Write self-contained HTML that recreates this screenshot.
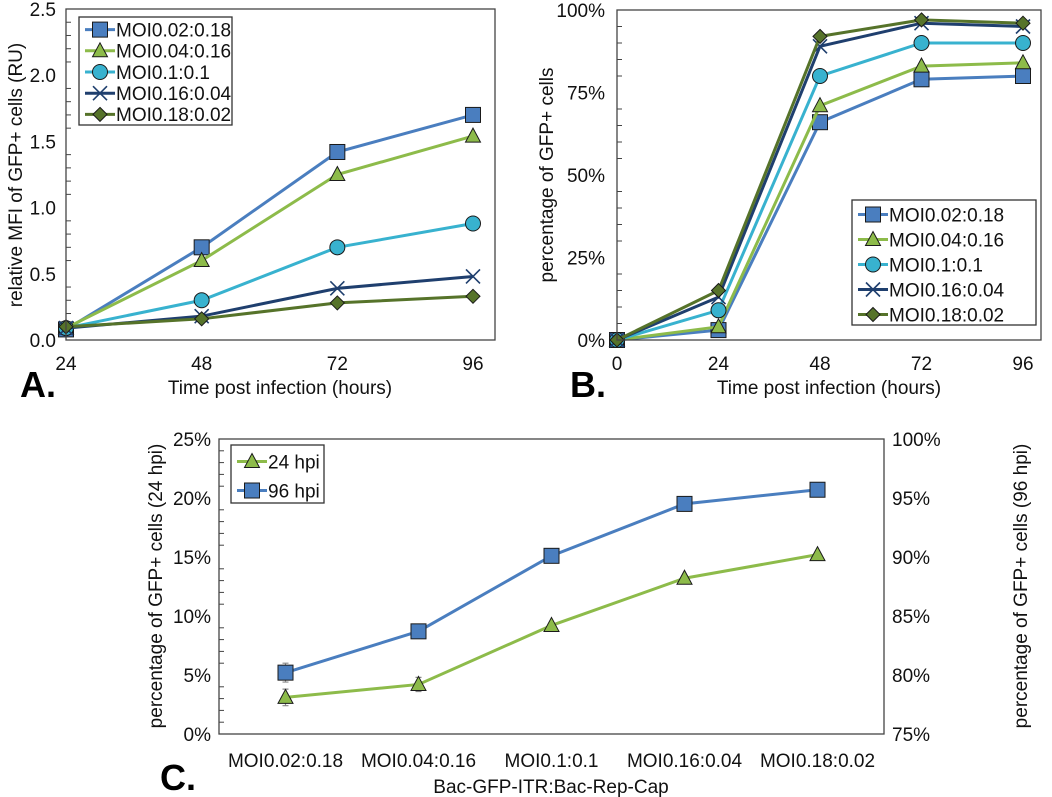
<!DOCTYPE html>
<html><head><meta charset="utf-8"><style>
html,body{margin:0;padding:0;background:#fff}
svg{display:block;font-family:"Liberation Sans",Arial,sans-serif}
</style></head><body>
<svg id="fig" width="1052" height="797" viewBox="0 0 1052 797"></svg>
<script>
const NS="http://www.w3.org/2000/svg";
const svg=document.getElementById('fig');
// ---- data ----
const seriesNames=["MOI0.02:0.18","MOI0.04:0.16","MOI0.1:0.1","MOI0.16:0.04","MOI0.18:0.02"];
const seriesColors=["#4a7ebf","#8dbb4a","#38b2cf","#1f3f6e","#56732a"];
const seriesMarkers=["square","triangle","circle","x","diamond"];
const aHours=[24,48,72,96];
const aMFI0=[0.08,0.70,1.42,1.70];
const aMFI1=[0.09,0.60,1.25,1.54];
const aMFI2=[0.09,0.30,0.70,0.88];
const aMFI3=[0.09,0.18,0.39,0.48];
const aMFI4=[0.10,0.16,0.28,0.33];
const aTicks=["0.0","0.5","1.0","1.5","2.0","2.5"];
const bHours=[0,24,48,72,96];
const bPct0=[0,3,66,79,80];
const bPct1=[0,4,71,83,84];
const bPct2=[0,9,80,90,90];
const bPct3=[0,13,89,96,95];
const bPct4=[0,15,92,97,96];
const bTicks=["0%","25%","50%","75%","100%"];
const cCats=["MOI0.02:0.18","MOI0.04:0.16","MOI0.1:0.1","MOI0.16:0.04","MOI0.18:0.02"];
const c24=[3.1,4.2,9.2,13.2,15.2];
const c24err=[0.7,0.6,0.2,0.2,0.2];
const c96=[80.2,83.7,90.1,94.5,95.7];
const c96err=[0.8,0.5,0.3,0.2,0.2];
const cLeftTicks=["0%","5%","10%","15%","20%","25%"];
const cRightTicks=["75%","80%","85%","90%","95%","100%"];

const FS=19;
function el(tag,attrs,parent,text){const e=document.createElementNS(NS,tag);for(const k in attrs)e.setAttribute(k,attrs[k]);if(text!==undefined)e.textContent=text;(parent||svg).appendChild(e);return e;}
function marker(g,type,x,y,color){
  const st='#1a1a1a';
  if(type==='square')return el('rect',{x:x-7.5,y:y-7.5,width:15,height:15,fill:color,stroke:st,'stroke-width':1},g);
  if(type==='triangle')return el('polygon',{points:`${x},${y-8} ${x+7.5},${y+6} ${x-7.5},${y+6}`,fill:color,stroke:st,'stroke-width':1},g);
  if(type==='circle')return el('circle',{cx:x,cy:y,r:7.5,fill:color,stroke:st,'stroke-width':1},g);
  if(type==='diamond')return el('polygon',{points:`${x},${y-7} ${x+7},${y} ${x},${y+7} ${x-7},${y}`,fill:color,stroke:st,'stroke-width':1},g);
  if(type==='x')return el('path',{d:`M${x-7},${y-7}L${x+7},${y+7}M${x-7},${y+7}L${x+7},${y-7}`,stroke:color,'stroke-width':1.6},g);
}
function frame(g,l,t,r,b){el('rect',{x:l,y:t,width:r-l,height:b-t,fill:'none',stroke:'#444','stroke-width':1.3},g);}
function lineSeries(g,xs,ys,xf,yf,color,mk,name){
  const sg=el('g',{},g);
  
  
  el('polyline',{points:xs.map((v,i)=>xf(v)+','+yf(ys[i])).join(' '),fill:'none',stroke:color,'stroke-width':3},sg);
  xs.forEach((v,i)=>{const m=marker(sg,mk,xf(v),yf(ys[i]),color);
    
    });
}
function legend(g,x,y,w,h,rowH,names,colors,markers,fs){
  const lg=el('g',{},g);
  
  
  el('rect',{x:x,y:y,width:w,height:h,fill:'#fff',stroke:'#333','stroke-width':1.3},lg);
  names.forEach((n,i)=>{const cy=y+rowH*(i+0.5)+2;
    const e=el('g',{},lg);
    
    
    el('line',{x1:x+6,y1:cy,x2:x+36,y2:cy,stroke:colors[i],'stroke-width':3},e);
    marker(e,markers[i],x+21,cy,colors[i]);
    el('text',{x:x+37,y:cy+fs*0.36,'font-size':fs,fill:'#111'},e,n);});
}
// ---- Chart A ----
(function(){
  const g=el('g',{});
  const L=66,R=495,T=9,B=340;
  const xf=h=>66+(h-24)*(473-66)/72, yf=v=>B-(v/2.5)*(B-T);
  for(let v=0;v<=2.5001;v+=0.1){el('line',{x1:L,x2:L+(Math.round(v*10)%5===0?0:5),y1:yf(v),y2:yf(v),stroke:'#444'},g);}
  aTicks.forEach(t=>{const tx=el('text',{x:L-10,y:yf(+t)+7,'text-anchor':'end','font-size':FS,fill:'#111'},g,t);});
  aHours.forEach(h=>{const tx=el('text',{x:xf(h),y:370,'text-anchor':'middle','font-size':FS,fill:'#111'},g,h);});
  const yt=el('text',{transform:`translate(22,175) rotate(-90)`,'text-anchor':'middle','font-size':FS,fill:'#111'},g,'relative MFI of GFP+ cells (RU)');
  const xt=el('text',{x:280,y:394,'text-anchor':'middle','font-size':FS,fill:'#111'},g,'Time post infection (hours)');
  const pl=el('text',{x:20,y:397,'font-size':36,'font-weight':'bold',fill:'#000'},g,'A.');
  const data=[aMFI0,aMFI1,aMFI2,aMFI3,aMFI4];
  data.forEach((d,i)=>lineSeries(g,aHours,d,xf,yf,seriesColors[i],seriesMarkers[i],'series-'+i));
  frame(g,L,T,R,B);
  legend(g,79,17,153,108,21.2,seriesNames,seriesColors,seriesMarkers,FS);
})();
// ---- Chart B ----
(function(){
  const g=el('g',{});
  const L=617,R=1041,T=10,B=340;
  const xf=h=>617+h*(1023-617)/96, yf=v=>B-(v/100)*(B-T);
  for(let v=0;v<=100;v+=5){el('line',{x1:L,x2:L+(v%25===0?0:5),y1:yf(v),y2:yf(v),stroke:'#444'},g);}
  bTicks.forEach(t=>{const tx=el('text',{x:L-12,y:yf(parseFloat(t))+7,'text-anchor':'end','font-size':FS,fill:'#111'},g,t);});
  bHours.forEach(h=>{const tx=el('text',{x:xf(h),y:370,'text-anchor':'middle','font-size':FS,fill:'#111'},g,h);});
  const yt=el('text',{transform:`translate(553,175) rotate(-90)`,'text-anchor':'middle','font-size':FS,fill:'#111'},g,'percentage of GFP+ cells');
  const xt=el('text',{x:829,y:394,'text-anchor':'middle','font-size':FS,fill:'#111'},g,'Time post infection (hours)');
  const pl=el('text',{x:570,y:397,'font-size':36,'font-weight':'bold',fill:'#000'},g,'B.');
  const data=[bPct0,bPct1,bPct2,bPct3,bPct4];
  data.forEach((d,i)=>lineSeries(g,bHours,d,xf,yf,seriesColors[i],seriesMarkers[i],'series-'+i));
  frame(g,L,T,R,B);
  legend(g,852,200,184,125,25,seriesNames,seriesColors,seriesMarkers,FS);
})();
// ---- Chart C ----
(function(){
  const g=el('g',{});
  const L=219,R=884,T=439,B=734;
  const step=(R-L)/cCats.length;
  const xf=i=>L+step*(i+0.5), yl=v=>B-(v/25)*(B-T), yr=v=>B-((v-75)/25)*(B-T);
  for(let v=0;v<=25;v+=1){el('line',{x1:L,x2:L+(v%5===0?0:5),y1:yl(v),y2:yl(v),stroke:'#444'},g);}
  cLeftTicks.forEach(t=>{const tx=el('text',{x:L-8,y:yl(parseFloat(t))+7,'text-anchor':'end','font-size':FS,fill:'#111'},g,t);});
  cRightTicks.forEach(t=>{const tx=el('text',{x:R+8,y:yr(parseFloat(t))+7,'font-size':FS,fill:'#111'},g,t);});
  cCats.forEach((c,i)=>{const tx=el('text',{x:xf(i),y:767,'text-anchor':'middle','font-size':FS,fill:'#111'},g,c);});
  const yt=el('text',{transform:`translate(162,586) rotate(-90)`,'text-anchor':'middle','font-size':FS,fill:'#111'},g,'percentage of GFP+ cells (24 hpi)');
  const yt2=el('text',{transform:`translate(1027,586) rotate(-90)`,'text-anchor':'middle','font-size':FS,fill:'#111'},g,'percentage of GFP+ cells (96 hpi)');
  const xt=el('text',{x:551,y:793,'text-anchor':'middle','font-size':FS,fill:'#111'},g,'Bac-GFP-ITR:Bac-Rep-Cap');
  const pl=el('text',{x:160,y:790,'font-size':36,'font-weight':'bold',fill:'#000'},g,'C.');
  const idx=cCats.map((c,i)=>i);
  [[c24,c24err,yl],[c96,c96err,yr]].forEach(([d,e,yf])=>{d.forEach((v,i)=>{const x=xf(i);
    const eb=el('path',{d:`M${x},${yf(v-e[i])}V${yf(v+e[i])}M${x-3},${yf(v-e[i])}H${x+3}M${x-3},${yf(v+e[i])}H${x+3}`,stroke:'#888','stroke-width':1.2},g);
    
    });});
  lineSeries(g,idx,c24,xf,yl,"#8dbb4a","triangle",'series-24-hpi');
  lineSeries(g,idx,c96,xf,yr,"#4a7ebf","square",'series-96-hpi');
  frame(g,L,T,R,B);
  legend(g,231,445,93,58,29,["24 hpi","96 hpi"],["#8dbb4a","#4a7ebf"],["triangle","square"],FS);
})();
</script>
</body></html>
